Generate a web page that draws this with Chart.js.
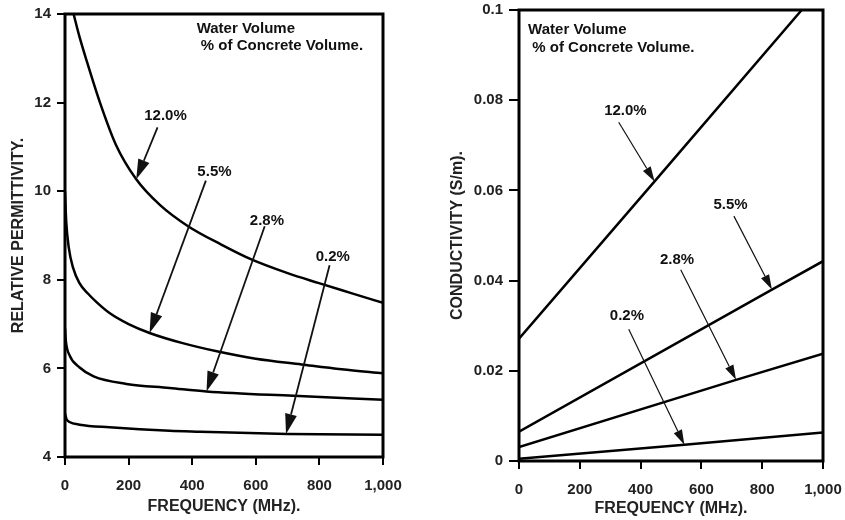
<!DOCTYPE html>
<html><head><meta charset="utf-8">
<script src="https://cdn.jsdelivr.net/npm/chart.js@4.4.1/dist/chart.umd.min.js"></script>
<style>
html,body{margin:0;padding:0;background:#fff;width:845px;height:520px;overflow:hidden}
#c1{position:absolute;left:0;top:0}
#c2{position:absolute;left:430px;top:0}
</style></head><body>
<canvas id="c1" width="430" height="520"></canvas>
<canvas id="c2" width="415" height="520"></canvas>
<script>
// ---- shared ----
const xTickLabels = ['0','200','400','600','800','1,000'];
const seriesNames = ['12.0%','5.5%','2.8%','0.2%'];
const noteLines = ['Water Volume',' % of Concrete Volume.'];

// ---- left: relative permittivity ----
const permYTickLabels = ['4','6','8','10','12','14'];
const perm120Freq = [27,45,70,110,160,224,300,387,490,586,700,796,900,1000];
const perm120     = [14.0,13.5,12.9,12.0,11.05,10.27,9.68,9.21,8.8,8.46,8.15,7.93,7.7,7.48];
const perm55Freq  = [0,4,12,25,45,72,100,140,200,266,370,481,600,744,870,1000];
const perm55      = [10.0,9.3,8.72,8.28,7.93,7.69,7.49,7.25,7.0,6.8,6.57,6.38,6.22,6.09,5.98,5.89];
const perm28Freq  = [0,3,14,46,90,193,329,445,718,1000];
const perm28      = [6.9,6.6,6.3,6.02,5.82,5.65,5.56,5.48,5.38,5.29];
const perm02Freq  = [0,5,14,46,140,329,425,700,1000];
const perm02      = [4.98,4.85,4.79,4.73,4.67,4.59,4.57,4.52,4.50];
// arrow annotations: label centre, arrow start, arrow tip (data units)
const permArrowLabel = [[316,11.70],[470,10.44],[635,9.33],[842,8.52]];
const permArrowFrom  = [[291,11.44],[443,10.24],[628,9.21],[832,8.33]];
const permArrowTo    = [[224,10.27],[266,6.8],[445,5.48],[695,4.52]];
const permNoteAt     = [[414,13.66],[414,13.28]];

// ---- right: conductivity ----
const condYTickLabels = ['0','0.02','0.04','0.06','0.08','0.1'];
const cond120Freq = [0,446,930];
const cond120     = [0.0271,0.062,0.1];
const cond55Freq  = [0,832,1000];
const cond55      = [0.0065,0.038,0.0443];
const cond28Freq  = [0,714,1000];
const cond28      = [0.0031,0.018,0.0238];
const cond02Freq  = [0,544,1000];
const cond02      = [0.0005,0.0036,0.0063];
const condArrowLabel = [[350,0.0776],[696,0.0568],[520,0.0446],[355,0.0321]];
const condArrowFrom  = [[328,0.0751],[707,0.0543],[532,0.0424],[361,0.0292]];
const condArrowTo    = [[446,0.062],[832,0.038],[714,0.018],[544,0.0036]];
const condNoteAt     = [[30,0.0957],[30,0.0915]];

const FONT = '"Liberation Sans", Arial, Helvetica, sans-serif';
const pts = (fx, vy) => fx.map((f,i)=>({x:f,y:vy[i]}));

const annotPlugin = {
  id:'annot',
  afterDatasetsDraw(chart, args, o){
    const {ctx, chartArea:a, scales:{x,y}} = chart;
    ctx.save();
    ctx.strokeStyle='#000'; ctx.lineWidth=3;
    ctx.strokeRect(a.left, a.top, a.right-a.left, a.bottom-a.top);
    ctx.fillStyle='#111'; ctx.strokeStyle='#111';
    ctx.font='bold 15px '+FONT; ctx.textAlign='center'; ctx.textBaseline='middle';
    o.labels.forEach((lp,i)=>{
      ctx.fillText(seriesNames[i], x.getPixelForValue(lp[0]), y.getPixelForValue(lp[1]));
      const sx=x.getPixelForValue(o.from[i][0]), sy=y.getPixelForValue(o.from[i][1]);
      const tx=x.getPixelForValue(o.to[i][0]), ty=y.getPixelForValue(o.to[i][1]);
      const ang=Math.atan2(ty-sy,tx-sx);
      const hl=o.headLen, hw=o.headWidth/2;
      const bx=tx-hl*Math.cos(ang), by=ty-hl*Math.sin(ang);
      ctx.lineWidth=o.shaft;
      ctx.beginPath(); ctx.moveTo(sx,sy); ctx.lineTo(bx,by); ctx.stroke();
      ctx.beginPath(); ctx.moveTo(tx,ty);
      ctx.lineTo(bx-hw*Math.sin(ang), by+hw*Math.cos(ang));
      ctx.lineTo(bx+hw*Math.sin(ang), by-hw*Math.cos(ang));
      ctx.closePath(); ctx.fill();
    });
    ctx.textAlign='left';
    o.noteAt.forEach((p,i)=>{
      ctx.fillText(noteLines[i], x.getPixelForValue(p[0]), y.getPixelForValue(p[1]));
    });
    ctx.restore();
  }
};

function makeChart(id, cfg){
  const ds = cfg.series.map(s=>({
    data: pts(s[0], s[1]), borderColor:'#000', borderWidth:2.5,
    pointRadius:0, fill:false, cubicInterpolationMode: cfg.curved?'monotone':'default', tension:0
  }));
  return new Chart(document.getElementById(id), {
    type:'line',
    data:{datasets:ds},
    options:{
      responsive:false, animation:false,
      layout:{padding:cfg.pad},
      plugins:{legend:{display:false}, tooltip:{enabled:false}, annot:cfg.annot},
      scales:{
        x:{type:'linear', min:0, max:1000,
          afterFit:s=>{s.height=cfg.xH;},
          border:{display:false},
          grid:{drawOnChartArea:false, drawTicks:true, tickLength:8, color:'#000', lineWidth:2},
          ticks:{stepSize:200, padding:2, color:'#222', font:{family:FONT, size:15, weight:'bold', lineHeight:2.53},
            maxRotation:0, callback:(v,i)=>xTickLabels[i]},
          title:{display:true, text:'FREQUENCY (MHz).', color:'#222',
            font:{family:FONT, size:16, weight:'bold'}, padding:{top:0,bottom:cfg.xTitlePad}}
        },
        y:{type:'linear', min:cfg.yMin, max:cfg.yMax,
          afterFit:s=>{s.width=cfg.yW;},
          border:{display:false},
          grid:{drawOnChartArea:false, drawTicks:true, tickLength:cfg.yTick, color:'#000', lineWidth:2},
          ticks:{stepSize:cfg.yStep, padding:6, color:'#222', font:{family:FONT, size:15, weight:'bold', lineHeight:0.5},
            callback:(v,i)=>cfg.yLabels[i]},
          title:{display:true, text:cfg.yTitle, color:'#222',
            font:{family:FONT, size:16, weight:'bold'}, padding:{top:cfg.yTitlePad,bottom:0}}
        }
      }
    },
    plugins:[annotPlugin]
  });
}

makeChart('c1', {
  series:[[perm120Freq,perm120],[perm55Freq,perm55],[perm28Freq,perm28],[perm02Freq,perm02]],
  curved:true, pad:{left:0,right:47,top:14,bottom:0}, xH:63, yW:65, yTick:8,
  yMin:4, yMax:14, yStep:2, yLabels:permYTickLabels, yTitle:'RELATIVE PERMITTIVITY.',
  xTitlePad:4, yTitlePad:9,
  annot:{labels:permArrowLabel, from:permArrowFrom, to:permArrowTo, noteAt:permNoteAt,
    headLen:20, headWidth:12, shaft:1.8}
});
makeChart('c2', {
  series:[[cond120Freq,cond120],[cond55Freq,cond55],[cond28Freq,cond28],[cond02Freq,cond02]],
  curved:false, pad:{left:0,right:22,top:10,bottom:0}, xH:59, yW:89, yTick:10,
  yMin:0, yMax:0.1, yStep:0.02, yLabels:condYTickLabels, yTitle:'CONDUCTIVITY (S/m).',
  xTitlePad:2, yTitlePad:18,
  annot:{labels:condArrowLabel, from:condArrowFrom, to:condArrowTo, noteAt:condNoteAt,
    headLen:15, headWidth:9, shaft:1.2}
});
</script>
</body></html>
